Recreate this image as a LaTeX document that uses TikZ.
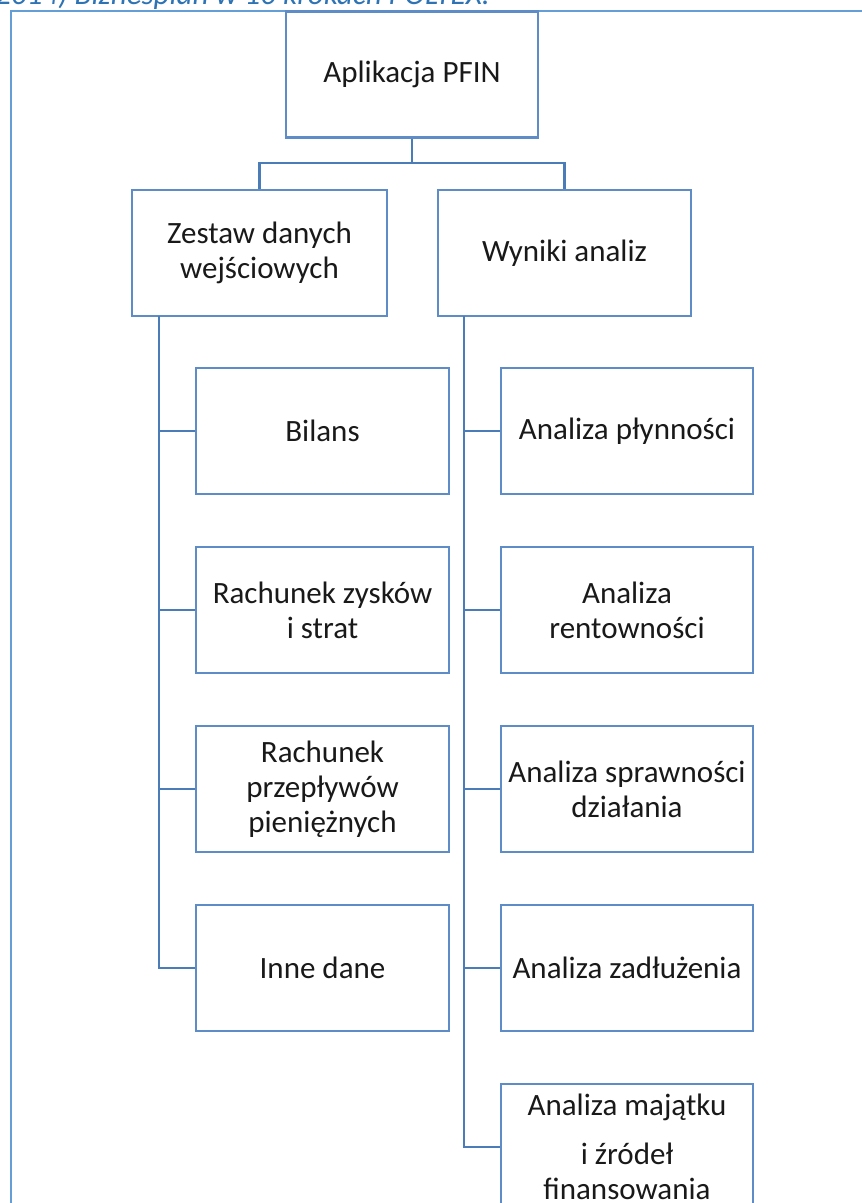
\documentclass[tikz,border=0pt]{standalone}
\usepackage{fontspec}
\setmainfont{Carlito}
\definecolor{boxblue}{RGB}{94,140,198}
\definecolor{linkblue}{RGB}{74,124,184}
\definecolor{frameblue}{RGB}{100,158,214}
\definecolor{capblue}{RGB}{46,116,181}
\definecolor{txt}{RGB}{25,25,25}
\tikzset{
  orgbox/.style={draw=boxblue, line width=2.2pt, fill=white, align=center,
    inner sep=0pt, minimum height=126pt, text=txt,
    font=\fontsize{31}{35}\selectfont},
  link/.style={draw=linkblue, line width=2.2pt},
}
\begin{document}
\begin{tikzpicture}[x=1pt,y=-1pt]
\useasboundingbox (0,0) rectangle (862,1203);
\fill[white] (0,0) rectangle (862,1203);
% caption (cut at the top edge)
\node[anchor=base east, inner sep=0pt, text=capblue, font=\fontsize{31}{35}\selectfont\itshape] (cap) at (490,4) {(2014) Biznesplan w 10 krokach POLTEX.};
% outer frame
\draw[frameblue, line width=2pt] (11,1230) -- (11,11) -- (880,11);
% nodes
\node[orgbox, minimum width=252pt] (top) at (412,74.5) {Aplikacja PFIN};
\node[orgbox, minimum width=255pt] (zestaw) at (259.5,253) {Zestaw danych\\wejściowych};
\node[orgbox, minimum width=253pt] (wyniki) at (564.5,253) {Wyniki analiz};
\node[orgbox, minimum width=253pt] (bilans) at (322.5,431) {Bilans};
\node[orgbox, minimum width=253pt] (rzis) at (322.5,610) {Rachunek zysków\\i strat};
\node[orgbox, minimum width=253pt] (rpp) at (322.5,789) {Rachunek\\przepływów\\pieniężnych};
\node[orgbox, minimum width=253pt] (inne) at (322.5,968) {Inne dane};
\node[orgbox, minimum width=252pt] (plyn) at (627,431) {Analiza płynności};
\node[orgbox, minimum width=252pt] (rent) at (627,610) {Analiza\\rentowności};
\node[orgbox, minimum width=252pt] (spraw) at (627,789) {Analiza sprawności\\działania};
\node[orgbox, minimum width=252pt] (zadl) at (627,968) {Analiza zadłużenia};
\node[orgbox, minimum width=252pt] (maj) at (627,1147) {Analiza majątku\\[14pt]i źródeł\\finansowania};
% connectors
\coordinate (mid) at (412,163);
\draw[link] (top.south) -- (mid);
\draw[link] (mid) -| (zestaw.north);
\draw[link] (mid) -| (wyniki.north);
\coordinate (ls) at (159,316);
\coordinate (rs) at (464,316);
\foreach \n in {bilans,rzis,rpp,inne} \draw[link] (ls) |- (\n.west);
\foreach \n in {plyn,rent,spraw,zadl,maj} \draw[link] (rs) |- (\n.west);
\end{tikzpicture}
\end{document}
